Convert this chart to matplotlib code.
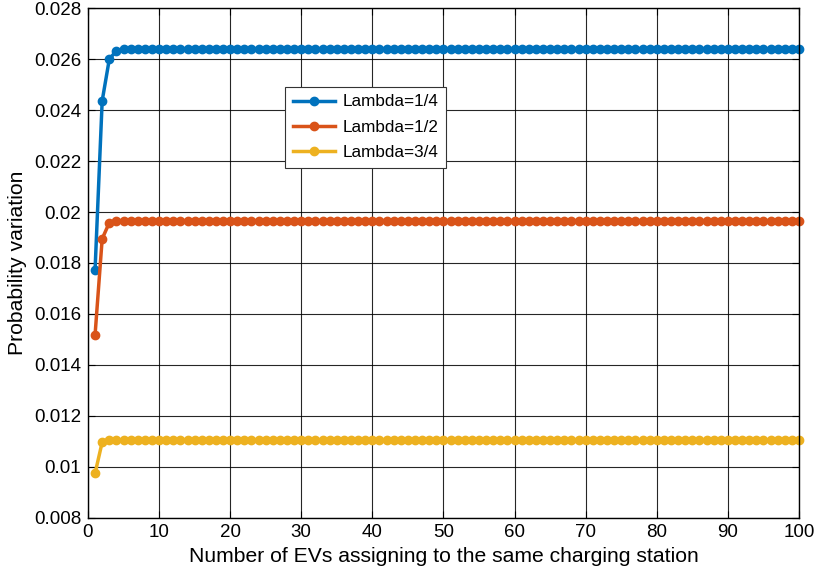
import matplotlib
matplotlib.use("Agg")
import matplotlib.pyplot as plt
import numpy as np

plt.rcParams['font.family'] = ['Liberation Sans', 'DejaVu Sans']

# number of EVs (1..100)
n_evs = np.arange(1, 101)

lam_quarter = [0.01774, 0.02437, 0.02600, 0.02634] + [0.02641] * 96
lam_half = [0.01518, 0.01895, 0.01958] + [0.01966] * 97
lam_3quarter = [0.00974, 0.01096] + [0.01105] * 98

labels = ["Lambda=1/4", "Lambda=1/2", "Lambda=3/4"]
colors = ["#0072BD", "#D95319", "#EDB120"]

fig = plt.figure(figsize=(8.16, 5.83), dpi=100)
ax = fig.add_axes([0.1078, 0.1123, 0.8713, 0.8733])

for y, lab, c in zip([lam_quarter, lam_half, lam_3quarter], labels, colors):
    ax.plot(n_evs, y, '-o', color=c, lw=2.5, ms=6, label=lab, clip_on=False)

ax.set_xlim(0, 100)
ax.set_ylim(0.008, 0.028)
ax.set_xticks(np.arange(0, 101, 10))
ax.set_yticks(np.arange(0.008, 0.0281, 0.002))
ax.set_yticklabels(["0.008", "0.01", "0.012", "0.014", "0.016", "0.018",
                    "0.02", "0.022", "0.024", "0.026", "0.028"])
ax.grid(True, color='black', lw=0.8, alpha=0.85)
ax.set_axisbelow(True)
ax.tick_params(direction='in', labelsize=13.5, length=5, top=True, right=True, pad=5)
for s in ax.spines.values():
    s.set_linewidth(1.0)

ax.set_xlabel("Number of EVs assigning to the same charging station", fontsize=15.2, labelpad=4)
ax.set_ylabel("Probability variation", fontsize=15.2, labelpad=5)

leg = ax.legend(loc='upper left', bbox_to_anchor=(0.277, 0.846), fontsize=12.3,
                fancybox=False, framealpha=1, edgecolor='#333333',
                borderpad=0.45, handlelength=2.5, handletextpad=0.4,
                labelspacing=0.6, borderaxespad=0)
leg.get_frame().set_linewidth(0.8)

fig.savefig("out.png", dpi=100)
